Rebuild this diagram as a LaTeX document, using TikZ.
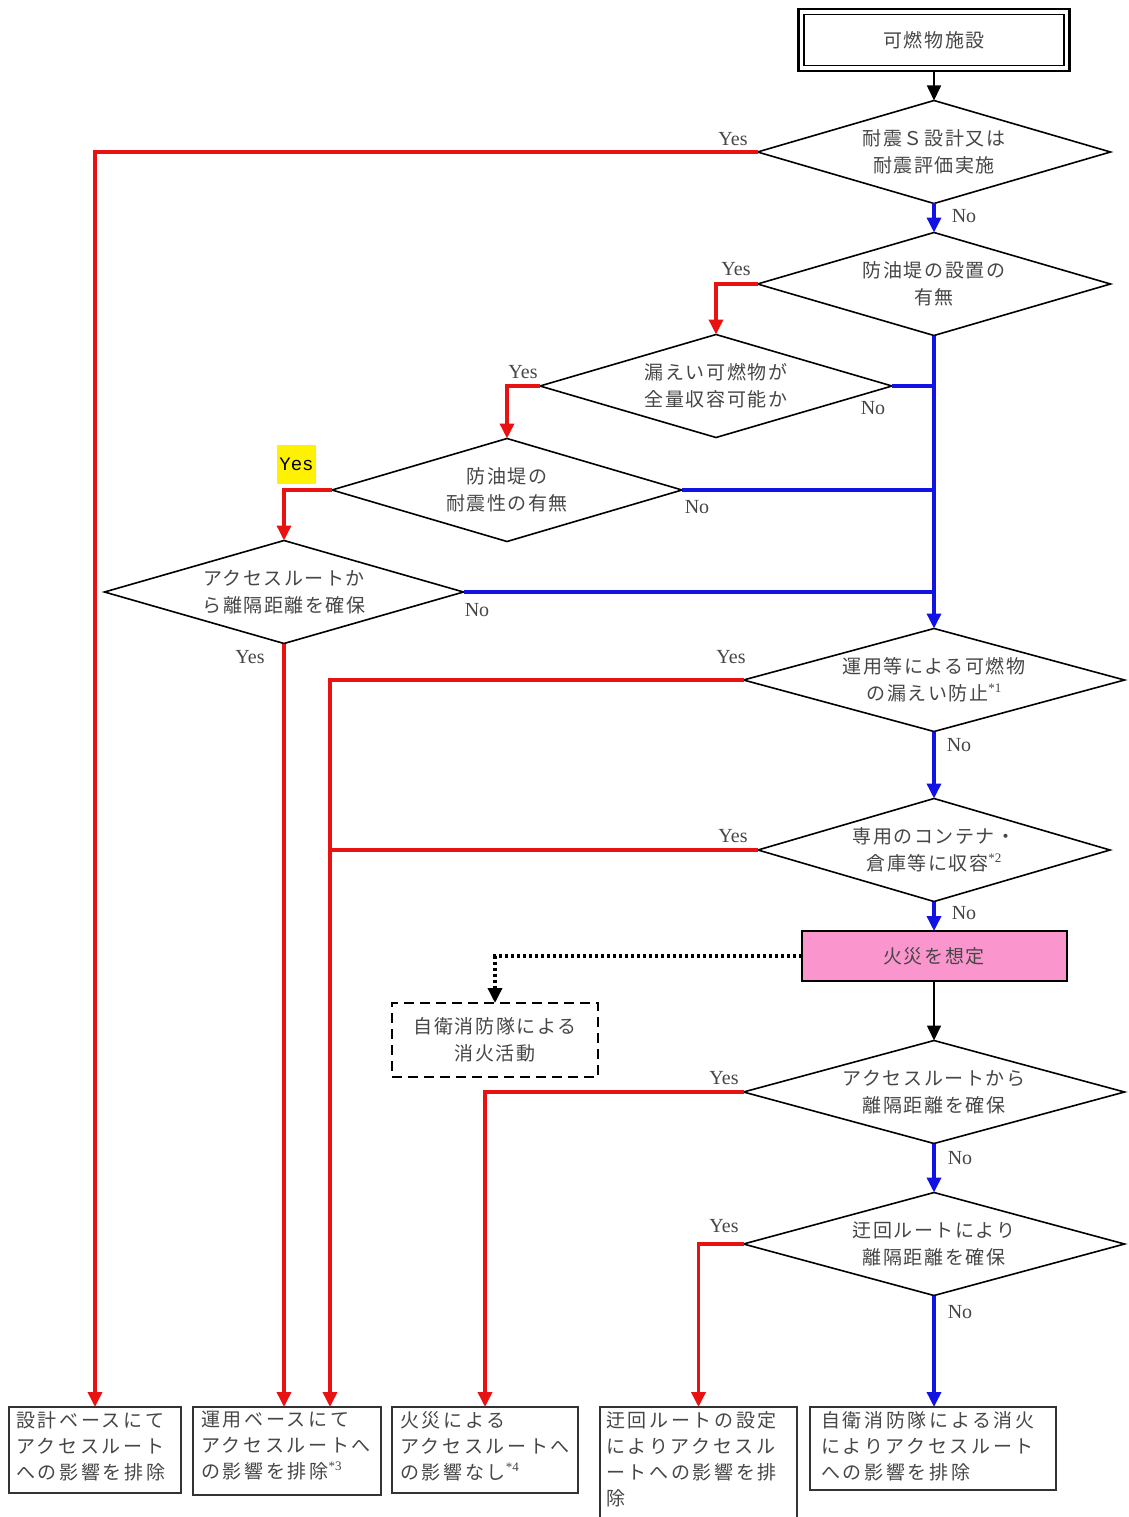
\documentclass[tikz,border=0pt]{standalone}
\usepackage{fontspec}
\setmainfont{Liberation Serif}
\newfontfamily\jp[LetterSpace=8]{Noto Sans CJK JP}
\newfontfamily\jpw[LetterSpace=14]{Noto Sans CJK JP}
\newfontfamily\monofam{Liberation Mono}
\usetikzlibrary{shapes.geometric,arrows.meta}
\definecolor{fred}{RGB}{232,18,18}
\definecolor{fblue}{RGB}{18,18,228}
\definecolor{fpink}{RGB}{250,150,205}
\definecolor{ftxt}{RGB}{70,70,70}
\newcommand\astr[1]{\raisebox{0.42em}{\fontsize{13}{13}\selectfont\rmfamily *#1}}
\tikzset{
  dia/.style={draw, diamond, line width=1.6pt, minimum width=#1, minimum height=103pt, inner sep=0pt, outer sep=0pt},
  dia/.default=353pt,
  dtxt/.style={align=center, text=ftxt, inner sep=0pt, font=\jp\fontsize{19}{27}\selectfont},
  lbl/.style={inner sep=0pt, text=ftxt, font=\rmfamily\fontsize{20}{20}\selectfont},
  tip/.style={-{Triangle[width=14pt,length=15pt]}},
  yesl/.style={draw=fred, line width=3.5pt},
  nol/.style={draw=fblue, line width=3.5pt},
  blk/.style={draw=black, line width=1.6pt},
  obox/.style={draw=black!80, line width=1.5pt, inner sep=0pt, outer sep=0pt},
  btxt/.style={align=left, text=ftxt, inner sep=0pt, anchor=north west, font=\jpw\fontsize{19}{26}\selectfont},
}
\begin{document}
\begin{tikzpicture}[x=1pt,y=-1pt]
\clip (0,0) rectangle (1128,1517);
\fill[white] (0,0) rectangle (1128,1517);

% top box (double border)
\node[draw=black, line width=2.5pt, minimum width=271pt, minimum height=62pt, inner sep=0pt, outer sep=0pt] (top) at (934,40) {};
\node[draw=black, line width=1.8pt, minimum width=260pt, minimum height=51pt, inner sep=0pt] (topin) at (top) {};
\node[dtxt] (toptxt) at (top) {可燃物施設};

% diamonds
\node[dia] (d1) at (934,152) {};
\node[dtxt] (d1t) at (d1) {耐震Ｓ設計又は\\耐震評価実施};
\node[dia] (d2) at (934,284) {};
\node[dtxt] (d2t) at (d2) {防油堤の設置の\\有無};
\node[dia=352pt] (d3) at (716,386) {};
\node[dtxt] (d3t) at (d3) {漏えい可燃物が\\全量収容可能か};
\node[dia=350pt] (d4) at (507,490) {};
\node[dtxt] (d4t) at (d4) {防油堤の\\耐震性の有無};
\node[dia=359pt] (d5) at (284,592) {};
\node[dtxt] (d5t) at (d5) {アクセスルートか\\ら離隔距離を確保};
\node[dia=381pt] (d6) at (934,680) {};
\node[dtxt] (d6t) at (d6) {運用等による可燃物\\の漏えい防止\astr{1}};
\node[dia=352pt] (d7) at (934,850) {};
\node[dtxt] (d7t) at (d7) {専用のコンテナ・\\倉庫等に収容\astr{2}};
\node[draw=black, line width=2pt, fill=fpink, minimum width=265pt, minimum height=50pt, inner sep=0pt, outer sep=0pt] (fire) at (934,956) {};
\node[dtxt] (firet) at (fire) {火災を想定};
\node[draw=black, line width=2.5pt, dash pattern=on 10pt off 6pt, minimum width=206pt, minimum height=74pt, inner sep=0pt, outer sep=0pt] (self) at (495,1040) {};
\node[dtxt] (selft) at (self) {自衛消防隊による\\消火活動};
\node[dia=381pt] (d8) at (934,1092) {};
\node[dtxt] (d8t) at (d8) {アクセスルートから\\離隔距離を確保};
\node[dia=381pt] (d9) at (934,1244) {};
\node[dtxt] (d9t) at (d9) {迂回ルートにより\\離隔距離を確保};

% bottom boxes
\node[obox, minimum width=172pt, minimum height=86pt] (b1) at (95,1450) {};
\node[btxt] (b1t) at ([xshift=7pt,yshift=-4pt]b1.north west) {設計ベースにて\\アクセスルート\\への影響を排除};
\node[obox, minimum width=188pt, minimum height=88pt] (b2) at (287,1451) {};
\node[btxt] (b2t) at ([xshift=8pt,yshift=-4pt]b2.north west) {運用ベースにて\\アクセスルートへ\\の影響を排除\astr{3}};
\node[obox, minimum width=186pt, minimum height=86pt] (b3) at (485,1450) {};
\node[btxt] (b3t) at ([xshift=8pt,yshift=-4pt]b3.north west) {火災による\\アクセスルートへ\\の影響なし\astr{4}};
\node[obox, minimum width=197pt, minimum height=140pt] (b4) at (698.5,1477) {};
\node[btxt] (b4t) at ([xshift=6pt,yshift=-4pt]b4.north west) {迂回ルートの設定\\によりアクセスル\\ートへの影響を排\\除};
\node[obox, minimum width=246pt, minimum height=83pt] (b5) at (933,1448.5) {};
\node[btxt] (b5t) at ([xshift=11pt,yshift=-4pt]b5.north west) {自衛消防隊による消火\\によりアクセスルート\\への影響を排除};

\coordinate (b2r) at ([xshift=43pt]b2.north);

% connectors
\draw[blk,tip] (top.south) -- (d1.north);
\draw[yesl,tip] (d1.west) -| (b1.north);
\draw[nol,tip] (d1.south) -- (d2.north);
\draw[yesl,tip] (d2.west) -| (d3.north);
\draw[yesl,tip] (d3.west) -| (d4.north);
\draw[yesl,tip] (d4.west) -| (d5.north);
\draw[yesl,tip] (d5.south) -- (d5.south |- b2.north);
\draw[nol] (d3.east) -- (d3.east -| d2.south);
\draw[nol] (d4.east) -- (d4.east -| d2.south);
\draw[nol] (d5.east) -- (d5.east -| d2.south);
\draw[nol,tip] (d2.south) -- (d6.north);
\draw[yesl,tip] (d6.west) -| (b2r);
\draw[yesl] (d7.west) -- (d7.west -| b2r);
\draw[nol,tip] (d6.south) -- (d7.north);
\draw[nol,tip] (d7.south) -- (fire.north);
\draw[black, line width=3.5pt, dash pattern=on 3pt off 3pt, tip] (fire.west) -| (self.north);
\draw[blk,tip] (fire.south) -- (d8.north);
\draw[yesl,tip] (d8.west) -| (b3.north);
\draw[nol,tip] (d8.south) -- (d9.north);
\draw[yesl,tip] (d9.west) -| (b4.north);
\draw[nol,tip] (d9.south) -- (d9.south |- b5.north);

% labels
\node[lbl] (y1) at (733,139) {Yes};
\node[lbl] (n1) at (964,216) {No};
\node[lbl] (y2) at (736,269) {Yes};
\node[lbl] (y3) at (523,372) {Yes};
\node[lbl] (n3) at (873,408) {No};
\node[fill=yellow, inner sep=2pt, minimum width=37pt, minimum height=39pt, font=\monofam\fontsize{19}{19}\selectfont] (y4) at (296.5,464.5) {Yes};
\node[lbl] (n4) at (697,507) {No};
\node[lbl] (y5) at (250,657) {Yes};
\node[lbl] (n5) at (477,610) {No};
\node[lbl] (y6) at (731,657) {Yes};
\node[lbl] (n6) at (959,745) {No};
\node[lbl] (y7) at (733,836) {Yes};
\node[lbl] (n7) at (964,913) {No};
\node[lbl] (y8) at (724,1078) {Yes};
\node[lbl] (n8) at (960,1158) {No};
\node[lbl] (y9) at (724,1226) {Yes};
\node[lbl] (n9) at (960,1312) {No};
\end{tikzpicture}
\end{document}
